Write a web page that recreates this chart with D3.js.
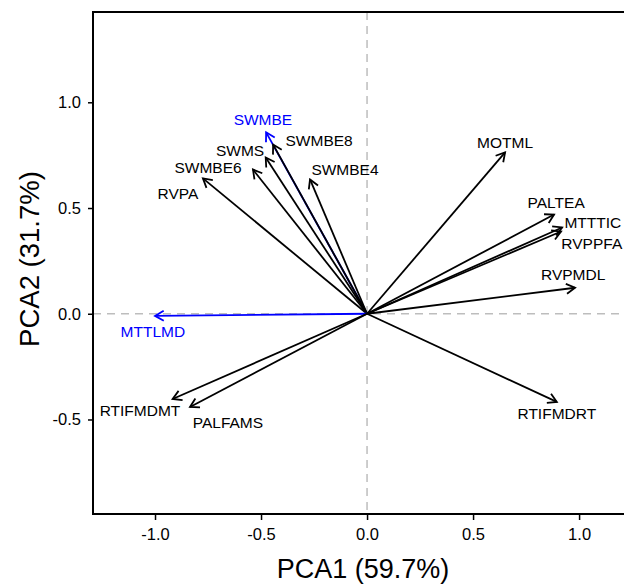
<!DOCTYPE html>
<html>
<head>
<meta charset="utf-8">
<script src="https://cdn.jsdelivr.net/npm/d3@7"></script>
<style>
  body { margin: 0; background: #fff; }
  text { font-family: "Liberation Sans", Arial, sans-serif; }
</style>
</head>
<body>
<div id="chart"></div>
<script>
// loadings (PC1, PC2) and where each label sits, in data units
let vars = ["SWMBE", "SWMBE8", "SWMS", "SWMBE6", "SWMBE4", "RVPA", "MOTML", "PALTEA",
            "MTTTIC", "RVPPFA", "RVPMDL", "MTTLMD", "RTIFMDMT", "PALFAMS", "RTIFMDRT"]
let pc1 = [-0.476, -0.443, -0.478, -0.538, -0.269, -0.774, 0.651, 0.882,
           0.920, 0.915, 0.981, -1.000, -0.917, -0.835, 0.895]
let pc2 = [0.858, 0.800, 0.739, 0.682, 0.635, 0.640, 0.763, 0.469,
           0.408, 0.389, 0.123, -0.010, -0.403, -0.441, -0.417]
let labX = [-0.491, -0.226, -0.599, -0.750, -0.104, -0.892, 0.651, 0.892,
            1.065, 1.060, 0.972, -1.010, -1.071, -0.656, 0.895]
let labY = [0.919, 0.820, 0.773, 0.693, 0.682, 0.569, 0.812, 0.526,
            0.432, 0.332, 0.185, -0.084, -0.459, -0.516, -0.469]
let highlighted = ["SWMBE", "MTTLMD"]
let ticks = [-1.0, -0.5, 0.0, 0.5, 1.0]
let yTicks = [-0.5, 0.0, 0.5, 1.0]

let margin = {top: 12, right: -10, bottom: 70, left: 93}
let width = 624 - margin.left - margin.right
let height = 584 - margin.top - margin.bottom

let svg = d3.select("#chart")
    .append("svg")
    .attr("width", 624)
    .attr("height", 584)
    .style("display", "block")
    .append("g")
    .attr("transform", "translate(" + margin.left + "," + margin.top + ")")

let x = d3.scaleLinear().domain([-1.2925, 1.259]).range([0, width])
let y = d3.scaleLinear().domain([-0.947, 1.427]).range([height, 0])

// zero reference lines
svg.append("line")
    .attr("x1", x(0)).attr("x2", x(0))
    .attr("y1", 0).attr("y2", height)
    .attr("stroke", "#bdbdbd").attr("stroke-width", 1.5)
    .attr("stroke-dasharray", "8,6")
svg.append("line")
    .attr("x1", 0).attr("x2", width)
    .attr("y1", y(0)).attr("y2", y(0))
    .attr("stroke", "#bdbdbd").attr("stroke-width", 1.5)
    .attr("stroke-dasharray", "8,6")

// arrowheads
let defs = svg.append("defs")
;[["black", "#000"], ["blue", "#0000ff"]].forEach(([id, col]) => {
    defs.append("marker")
        .attr("id", "head-" + id)
        .attr("markerUnits", "userSpaceOnUse")
        .attr("viewBox", "-12 -8 14 16")
        .attr("markerWidth", 14).attr("markerHeight", 16)
        .attr("refX", 0).attr("refY", 0)
        .attr("orient", "auto")
        .append("path")
        .attr("d", "M-8.7,-5L0,0L-8.7,5")
        .attr("fill", "none")
        .attr("stroke", col)
        .attr("stroke-width", 1.8)
})

let data = vars.map((v, i) => ({name: v, pc1: pc1[i], pc2: pc2[i], lx: labX[i], ly: labY[i],
                                blue: highlighted.includes(v)}))

svg.selectAll(".arrow")
    .data(data)
    .enter()
    .append("line")
    .attr("class", "arrow")
    .attr("x1", x(0)).attr("y1", y(0))
    .attr("x2", d => x(d.pc1)).attr("y2", d => y(d.pc2))
    .attr("stroke", d => d.blue ? "#0000ff" : "#000")
    .attr("stroke-width", 1.8)
    .attr("marker-end", d => d.blue ? "url(#head-blue)" : "url(#head-black)")

svg.selectAll(".lab")
    .data(data)
    .enter()
    .append("text")
    .attr("class", "lab")
    .attr("x", d => x(d.lx))
    .attr("y", d => y(d.ly))
    .attr("dy", "0.36em")
    .attr("text-anchor", "middle")
    .attr("font-size", "15.5px")
    .attr("fill", d => d.blue ? "#0000ff" : "#000")
    .text(d => d.name)

// axes
let fmt = d => d.toFixed(1)
let xAxis = svg.append("g")
    .attr("transform", "translate(0," + height + ")")
    .call(d3.axisBottom(x).tickValues(ticks).tickFormat(fmt).tickSizeOuter(0).tickSize(6).tickPadding(8))
let yAxis = svg.append("g")
    .call(d3.axisLeft(y).tickValues(yTicks).tickFormat(fmt).tickSizeOuter(0).tickSize(5).tickPadding(7))
;[xAxis, yAxis].forEach(a => {
    a.select(".domain").remove()
    a.selectAll("line").attr("stroke", "#000").attr("stroke-width", 1.5)
    a.selectAll("text").attr("font-size", "16.5px").attr("fill", "#000")
        .style("font-family", "'Liberation Sans', Arial, sans-serif")
})

// box
svg.append("rect")
    .attr("x", 0).attr("y", 0)
    .attr("width", width).attr("height", height)
    .attr("fill", "none").attr("stroke", "#000").attr("stroke-width", 2)

svg.append("text")
    .attr("x", x(0) - 4)
    .attr("y", height + 64)
    .attr("text-anchor", "middle")
    .attr("font-size", "27px")
    .text("PCA1 (59.7%)")

svg.append("text")
    .attr("transform", "translate(" + (-54) + "," + (height / 2 - 4) + ") rotate(-90)")
    .attr("text-anchor", "middle")
    .attr("font-size", "27.5px")
    .text("PCA2 (31.7%)")
</script>
</body>
</html>
